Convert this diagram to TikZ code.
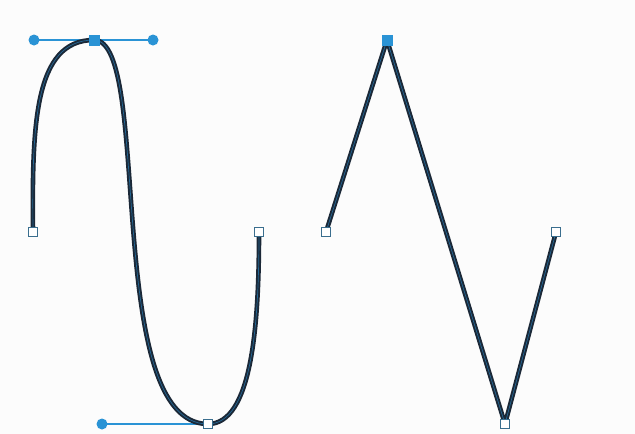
\documentclass[tikz,border=0pt]{standalone}
\definecolor{handleblue}{HTML}{2A93D5}
\definecolor{strokedark}{HTML}{1B2837}
\definecolor{boxedge}{HTML}{3A6E8E}
\definecolor{bg}{HTML}{FCFCFC}
\tikzset{
  hollowpt/.style={draw=boxedge, fill=white, line width=1.2pt, minimum size=9pt, inner sep=0pt, shape=rectangle},
  filledpt/.style={draw=handleblue, fill=handleblue, minimum size=10pt, inner sep=0pt, shape=rectangle},
  handledot/.style={circle, fill=handleblue, minimum size=11pt, inner sep=0pt},
  handleline/.style={draw=handleblue, line width=1.8pt},
  pathdark/.style={draw=strokedark, line width=4.6pt, line cap=round, line join=round},
  pathblue/.style={draw=handleblue!60!strokedark, line width=0.7pt, line cap=round, line join=round}
}
\begin{document}
\begin{tikzpicture}[x=1pt,y=-1pt]
\fill[bg] (0,0) rectangle (635,434);
\useasboundingbox (0,0) rectangle (635,434);
% left curve anchors
\coordinate (s1) at (33,232);
\coordinate (t1) at (94,40);
\coordinate (b1) at (208,424);
\coordinate (e1) at (259,232);
\coordinate (hL) at (34,40);
\coordinate (hR) at (153,40);
\coordinate (hB) at (102,424);
\coordinate (c1) at (32,125);
\coordinate (c5) at (252,424);
\coordinate (c6) at (259,325);
% right polyline anchors
\coordinate (p1) at (326,232);
\coordinate (p2) at (387,40);
\coordinate (p3) at (505,424);
\coordinate (p4) at (556,232);
% handle lines
\draw[handleline] (hL) -- (hR);
\draw[handleline] (hB) -- (b1);
% curve
\foreach \st in {pathdark,pathblue}{
  \draw[\st] (s1) .. controls (c1) and (hL) .. (t1)
             .. controls (hR) and (hB) .. (b1)
             .. controls (c5) and (c6) .. (e1);
  \draw[\st] (p1) -- (p2) -- (p3) -- (p4);
}
% handle dots
\node[handledot] (dL) at (hL) {};
\node[handledot] (dR) at (hR) {};
\node[handledot] (dB) at (hB) {};
% anchor points
\node[hollowpt] (n1) at (s1) {};
\node[filledpt] (n2) at (t1) {};
\node[hollowpt] (n3) at (b1) {};
\node[hollowpt] (n4) at (e1) {};
\node[hollowpt] (m1) at (p1) {};
\node[filledpt] (m2) at (p2) {};
\node[hollowpt] (m3) at (p3) {};
\node[hollowpt] (m4) at (p4) {};
\end{tikzpicture}
\end{document}
